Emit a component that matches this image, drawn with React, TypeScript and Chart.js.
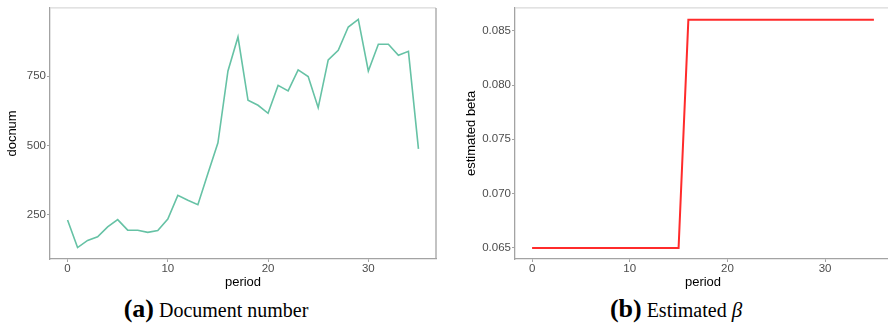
import React, { useEffect, useRef } from "react";
import { Chart, registerables } from "chart.js";

Chart.register(...registerables);

const periods = [0, 1, 2, 3, 4, 5, 6, 7, 8, 9, 10, 11, 12, 13, 14, 15, 16, 17, 18, 19, 20, 21, 22, 23, 24, 25, 26, 27, 28, 29, 30, 31, 32, 33, 34, 35];
const docnum = [230, 130, 156, 169, 205, 231, 193, 193, 185, 192, 233, 319, 301, 285, 398, 509, 769, 892, 663, 645, 616, 717, 697, 773, 749, 636, 809, 844, 928, 956, 769, 866, 866, 826, 840, 487];
const beta = [0.065, 0.065, 0.065, 0.065, 0.065, 0.065, 0.065, 0.065, 0.065, 0.065, 0.065, 0.065, 0.065, 0.065, 0.065, 0.065, 0.086, 0.086, 0.086, 0.086, 0.086, 0.086, 0.086, 0.086, 0.086, 0.086, 0.086, 0.086, 0.086, 0.086, 0.086, 0.086, 0.086, 0.086, 0.086, 0.086];
const periodTicks = [0, 10, 20, 30];
const docnumTicks = [250, 500, 750];
const betaTicks = [0.065, 0.07, 0.075, 0.08, 0.085];

const SANS = '"Liberation Sans", Arial, sans-serif';
const AXIS = "#a3a3a3";
const TICK = "#4d4d4d";

const framePlugin = {
  id: "frame",
  afterDraw(chart: any) {
    const { ctx, chartArea } = chart;
    const { left, right, top, bottom } = chartArea;
    ctx.save();
    ctx.lineWidth = 1.3;
    ctx.strokeStyle = "#d9d9d9";
    ctx.beginPath();
    ctx.moveTo(left, top);
    ctx.lineTo(right, top);
    ctx.stroke();
    ctx.strokeStyle = AXIS;
    ctx.beginPath();
    ctx.moveTo(right, top);
    ctx.lineTo(right, bottom);
    ctx.stroke();
    ctx.restore();
  },
};

function xScale() {
  return {
    type: "linear",
    min: -1.75,
    max: 36.75,
    afterBuildTicks: (s: any) => {
      s.ticks = periodTicks.map((v) => ({ value: v }));
    },
    afterFit: (s: any) => {
      s.height = 31;
    },
    grid: { display: true, drawOnChartArea: false, drawTicks: true, tickLength: 3, tickColor: AXIS, tickWidth: 1 },
    border: { display: true, color: AXIS, width: 1.3 },
    ticks: { color: TICK, font: { family: SANS, size: 11.5 }, padding: 0, maxRotation: 0, autoSkip: false, callback: (v: any) => String(v) },
    title: { display: true, text: "period", color: "#000", font: { family: SANS, size: 13 }, padding: { top: 0, bottom: 0 } },
  };
}

function yScale(min: number, max: number, ticks: number[], width: number, title: string, titlePad: number, fmt: (v: number) => string) {
  return {
    type: "linear",
    min,
    max,
    afterBuildTicks: (s: any) => {
      s.ticks = ticks.map((v) => ({ value: v }));
    },
    afterFit: (s: any) => {
      s.width = width;
    },
    grid: { display: true, drawOnChartArea: false, drawTicks: true, tickLength: 3, tickColor: AXIS, tickWidth: 1 },
    border: { display: true, color: AXIS, width: 1.3 },
    ticks: { color: TICK, font: { family: SANS, size: 11.5 }, padding: 1, autoSkip: false, callback: (v: any) => fmt(Number(v)) },
    title: { display: true, text: title, color: "#000", font: { family: SANS, size: 13 }, padding: { top: titlePad, bottom: 0 } },
  };
}

function makeConfig(values: number[], color: string, lw: number, y: any, padRight: number): any {
  return {
    type: "line",
    data: {
      datasets: [
        {
          data: periods.map((p, i) => ({ x: p, y: values[i] })),
          borderColor: color,
          borderWidth: lw,
          pointRadius: 0,
          fill: false,
          tension: 0,
        },
      ],
    },
    options: {
      responsive: false,
      animation: false,
      devicePixelRatio: 1,
      layout: { padding: { left: 0, top: 7, right: padRight, bottom: 0 } },
      plugins: { legend: { display: false }, tooltip: { enabled: false } },
      scales: { x: xScale(), y },
    },
    plugins: [framePlugin],
  };
}

export default function App() {
  const ref1 = useRef<HTMLCanvasElement>(null);
  const ref2 = useRef<HTMLCanvasElement>(null);

  useEffect(() => {
    const c1 = new Chart(
      ref1.current as HTMLCanvasElement,
      makeConfig(docnum, "#66c2a5", 1.6, yScale(88.7, 997.3, docnumTicks, 50, "docnum", 5, (v) => String(v)), 8)
    );
    const c2 = new Chart(
      ref2.current as HTMLCanvasElement,
      makeConfig(beta, "#ff2b2b", 2, yScale(0.06398, 0.0871, betaTicks, 71, "estimated beta", 20, (v) => v.toFixed(3)), 5)
    );
    return () => {
      c1.destroy();
      c2.destroy();
    };
  }, []);

  const cap: React.CSSProperties = {
    position: "absolute",
    top: 295,
    width: 400,
    textAlign: "center",
    fontFamily: '"Liberation Serif", "Times New Roman", serif',
    fontSize: 20,
    lineHeight: "28px",
    color: "#000",
    whiteSpace: "nowrap",
  };

  return (
    <div style={{ position: "absolute", left: 0, top: 0, width: 888, height: 326, background: "#fff", overflow: "hidden" }}>
      <div style={{ position: "absolute", left: 0, top: 0, width: 444, height: 290 }}>
        <canvas ref={ref1} width={444} height={290} style={{ display: "block" }} />
      </div>
      <div style={{ position: "absolute", left: 444, top: 0, width: 444, height: 290, overflow: "hidden" }}>
        <canvas ref={ref2} width={452} height={290} style={{ display: "block" }} />
      </div>
      <div style={{ ...cap, left: 16 }}>
        <b style={{ fontSize: 26 }}>(a)</b> Document number
      </div>
      <div style={{ ...cap, left: 476 }}>
        <b style={{ fontSize: 26 }}>(b)</b> Estimated <i style={{ fontSize: 21 }}>β</i>
      </div>
    </div>
  );
}
